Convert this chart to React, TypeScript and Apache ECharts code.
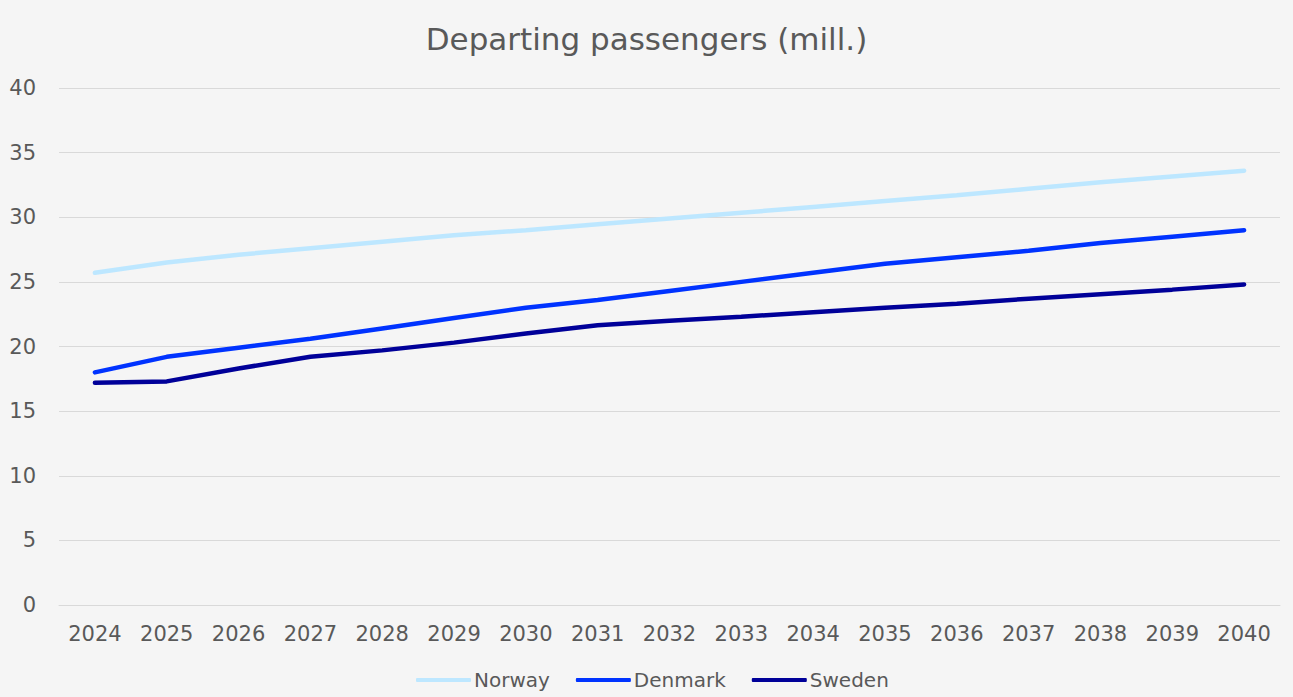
import React, { useEffect, useRef } from "react";
import * as echarts from "echarts";

const years = ["2024","2025","2026","2027","2028","2029","2030","2031","2032","2033","2034","2035","2036","2037","2038","2039","2040"];
const norway = [25.7, 26.5, 27.1, 27.6, 28.1, 28.6, 29.0, 29.45, 29.9, 30.35, 30.8, 31.25, 31.7, 32.2, 32.7, 33.15, 33.6];
const denmark = [18.0, 19.2, 19.9, 20.6, 21.4, 22.2, 23.0, 23.6, 24.3, 25.0, 25.7, 26.4, 26.9, 27.4, 28.0, 28.5, 29.0];
const sweden = [17.2, 17.3, 18.3, 19.2, 19.7, 20.3, 21.0, 21.65, 22.0, 22.3, 22.65, 23.0, 23.3, 23.7, 24.05, 24.4, 24.8];

const FONT = "DejaVu Sans";
const TEXT = "#595959";

export default function App() {
  const ref = useRef<HTMLDivElement>(null);
  useEffect(() => {
    const chart = echarts.init(ref.current!, null, { renderer: "svg" });
    const mk = (name: string, data: number[], color: string) => ({
      name,
      type: "line",
      data,
      symbol: "none",
      lineStyle: { color, width: 4.5, cap: "round" },
      itemStyle: { color },
    });
    chart.setOption({
      animation: false,
      backgroundColor: "#f5f5f5",
      textStyle: { fontFamily: FONT },
      title: {
        text: "Departing passengers (mill.)",
        left: "center",
        top: 18,
        textStyle: { fontFamily: FONT, fontSize: 31, fontWeight: "normal", color: TEXT },
      },
      grid: { left: 59, right: 13, top: 88, bottom: 92, containLabel: false },
      legend: {
        bottom: 2,
        left: 411,
        icon: "roundRect",
        itemWidth: 55,
        itemHeight: 4,
        itemGap: 26,
        textStyle: { fontFamily: FONT, fontSize: 20, color: TEXT, padding: [0, 0, 0, -2] },
        data: ["Norway", "Denmark", "Sweden"],
      },
      xAxis: {
        type: "category",
        data: years,
        boundaryGap: true,
        axisLine: { show: true, lineStyle: { color: "#d9d9d9", width: 1 } },
        axisTick: { show: false },
        axisLabel: { color: TEXT, fontSize: 21, fontFamily: FONT, margin: 18 },
      },
      yAxis: {
        type: "value",
        min: 0,
        max: 40,
        interval: 5,
        axisLine: { show: false },
        axisTick: { show: false },
        splitLine: { lineStyle: { color: "#d9d9d9", width: 1 } },
        axisLabel: { color: TEXT, fontSize: 21, fontFamily: FONT, margin: 23 },
      },
      series: [
        mk("Norway", norway, "#bde7ff"),
        mk("Denmark", denmark, "#0033ff"),
        mk("Sweden", sweden, "#000099"),
      ],
    });
    return () => chart.dispose();
  }, []);
  return (
    <div
      ref={ref}
      style={{ position: "fixed", left: 0, top: 0, width: 1293, height: 697 }}
    />
  );
}
